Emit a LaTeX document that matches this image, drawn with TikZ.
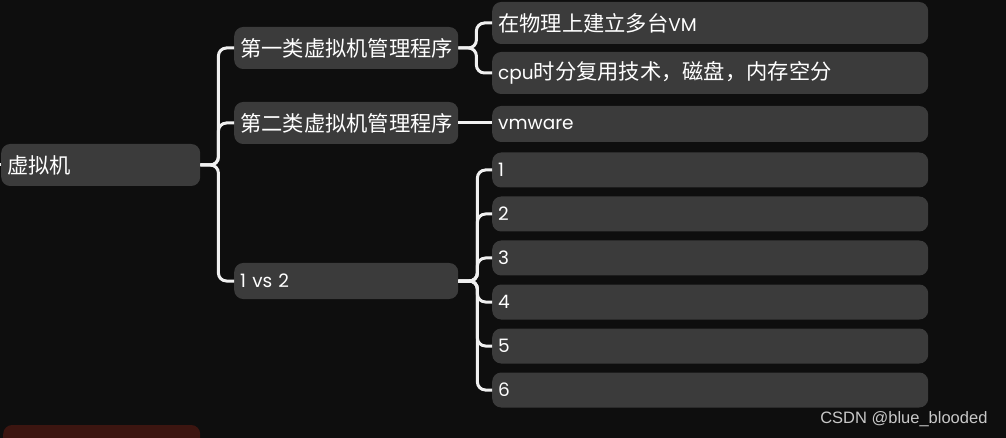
\documentclass[tikz,border=0pt]{standalone}
\usepackage{fontspec}
\setmainfont{Poppins}
\newfontfamily\cjk[Scale=1.15]{Noto Sans CJK SC}
\newfontfamily\wm{Liberation Sans}
\definecolor{bg}{HTML}{0E0E0E}
\definecolor{boxc}{HTML}{3B3B3B}
\definecolor{redbox}{HTML}{3C1510}
\definecolor{linec}{HTML}{F0F0F0}
\definecolor{wmc}{HTML}{C8C8C8}
\begin{document}
\begin{tikzpicture}[x=1pt,y=-1pt,
  box/.style={fill=boxc, rounded corners=9pt, anchor=west, inner xsep=6pt, inner ysep=0pt,
    align=left, text=white, font=\fontsize{18.5}{22}\selectfont},
  rootbox/.style={box, text width=187pt, minimum height=42pt},
  midbox/.style={box, text width=212pt},
  leafbox/.style={box, text width=424pt},
  conn/.style={draw=linec, line width=3pt, rounded corners=8pt}]
\fill[bg] (0,0) rectangle (1006,438);
\useasboundingbox (0,0) rectangle (1006,438);

\node[rootbox] (root) at (1,165) {\cjk 虚拟机};
\node[box, fill=redbox, text width=185pt, minimum height=42pt] (red) at (3,446) {};

\node[midbox, minimum height=42pt] (m1) at (234,48) {\cjk 第一类虚拟机管理程序};
\node[midbox, minimum height=42pt] (m2) at (234,123) {\cjk 第二类虚拟机管理程序};
\node[midbox, minimum height=36pt] (m3) at (234,281) {1 vs 2};

\node[leafbox, minimum height=42pt] (l1) at (492,23) {{\cjk 在物理上建立多台}VM};
\node[leafbox, minimum height=42pt] (l2) at (492,73) {cpu{\cjk 时分复用技术，磁盘，内存空分}};
\node[leafbox, minimum height=36pt] (l3) at (492,124) {vmware};
\node[leafbox, minimum height=35pt] (n1) at (492,170) {1};
\node[leafbox, minimum height=35pt] (n2) at (492,214) {2};
\node[leafbox, minimum height=35pt] (n3) at (492,258) {3};
\node[leafbox, minimum height=35pt] (n4) at (492,302) {4};
\node[leafbox, minimum height=35pt] (n5) at (492,346) {5};
\node[leafbox, minimum height=35pt] (n6) at (492,390) {6};

\coordinate (parentstub) at (-2,165);
\draw[conn] (parentstub) -- (root.west);

\foreach \c in {m1,m2,m3}
  \draw[conn] (root.east) -- ++(18,0) |- (\c.west);
\foreach \c in {l1,l2}
  \draw[conn] (m1.east) -- ++(18,0) |- (\c.west);
\draw[conn] (m2.east) -- (l3.west |- m2.east);
\foreach \c in {n1,n2,n3,n4,n5,n6}
  \draw[conn] (m3.east) -- ++(19,0) |- (\c.west);

\node[text=wmc, font=\wm\fontsize{16.5}{19}\selectfont, anchor=east] (wmark) at (991,419) {CSDN @blue\_blooded};
\end{tikzpicture}
\end{document}
